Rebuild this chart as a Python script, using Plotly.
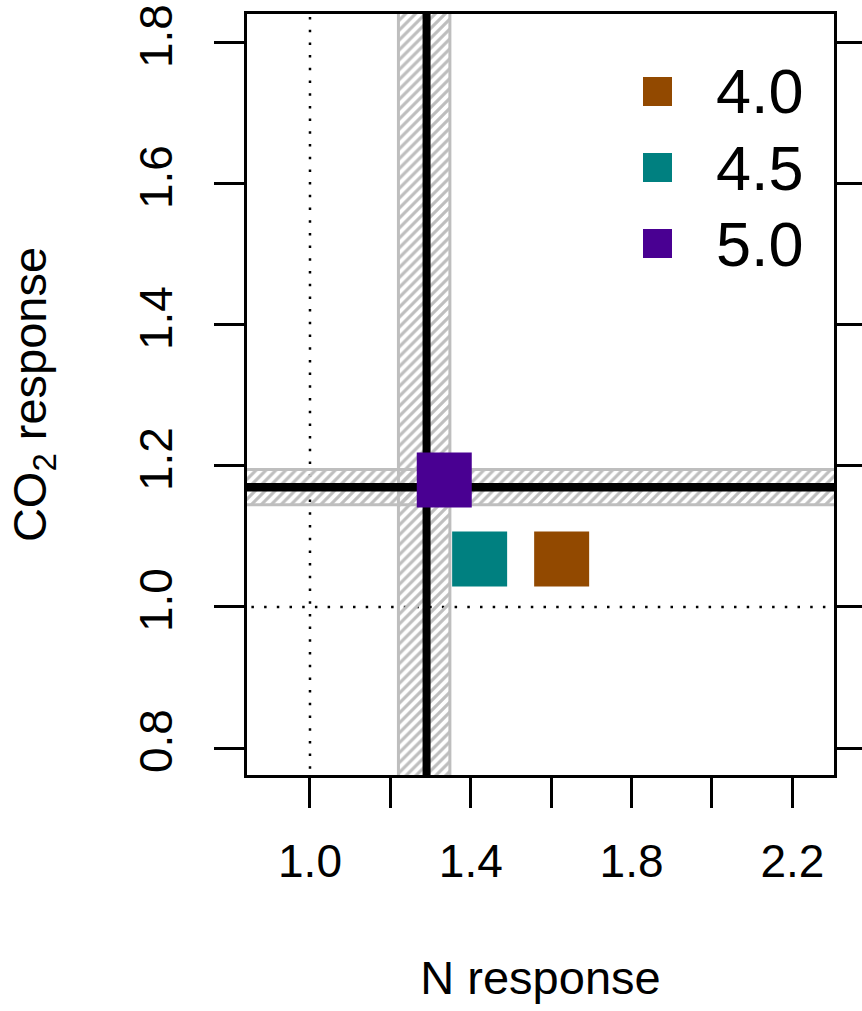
import plotly.graph_objects as go

# ---- data ----
ph_levels = ["4.0", "4.5", "5.0"]
n_response = [1.626, 1.422, 1.334]
co2_response = [1.068, 1.068, 1.180]
ph_colors = ["#924900", "#008080", "#490092"]

overall_n = 1.290
overall_n_lo, overall_n_hi = 1.220, 1.348
overall_co2 = 1.170
overall_co2_lo, overall_co2_hi = 1.145, 1.195

x_ticks = [1.0, 1.4, 1.8, 2.2]
x_ticklabels = ["1.0", "1.4", "1.8", "2.2"]
x_minor_step = 0.2
y_ticks = [0.8, 1.0, 1.2, 1.4, 1.6, 1.8]
y_ticklabels = ["0.8", "1.0", "1.2", "1.4", "1.6", "1.8"]

x_range = [0.8433, 2.3035]
y_range = [0.7617, 1.8411]

FONT = "Liberation Sans, Arial, Helvetica, sans-serif"
BAND_GRAY = "#BEBEBE"

fig = go.Figure()

# reference dotted lines at 1.0
fig.add_trace(go.Scatter(x=[1.0, 1.0], y=[y_range[0] - 1, y_range[1] + 1], mode="lines",
                         line=dict(color="black", width=2.5, dash="2.5px,10.2px"),
                         hoverinfo="skip", showlegend=False))
fig.add_trace(go.Scatter(x=[x_range[0] - 1, x_range[1] + 1], y=[1.0, 1.0], mode="lines",
                         line=dict(color="black", width=2.5, dash="2.5px,10.2px"),
                         hoverinfo="skip", showlegend=False))

# hatched uncertainty bands
big_lo_x, big_hi_x = x_range[0] - 1, x_range[1] + 1
big_lo_y, big_hi_y = y_range[0] - 1, y_range[1] + 1
hatch = dict(shape="/", fgcolor=BAND_GRAY, bgcolor="rgba(0,0,0,0)", size=7, solidity=0.45, fillmode="replace")
fig.add_trace(go.Scatter(
    x=[big_lo_x, big_hi_x, big_hi_x, big_lo_x, big_lo_x],
    y=[overall_co2_lo, overall_co2_lo, overall_co2_hi, overall_co2_hi, overall_co2_lo],
    mode="lines", fill="toself", fillcolor="rgba(0,0,0,0)", fillpattern=hatch,
    line=dict(color=BAND_GRAY, width=3), hoverinfo="skip", showlegend=False))
fig.add_trace(go.Scatter(
    x=[overall_n_lo, overall_n_hi, overall_n_hi, overall_n_lo, overall_n_lo],
    y=[big_lo_y, big_lo_y, big_hi_y, big_hi_y, big_lo_y],
    mode="lines", fill="toself", fillcolor="rgba(0,0,0,0)", fillpattern=hatch,
    line=dict(color=BAND_GRAY, width=3), hoverinfo="skip", showlegend=False))

# overall response lines
fig.add_trace(go.Scatter(x=[overall_n, overall_n], y=[big_lo_y, big_hi_y], mode="lines",
                         line=dict(color="black", width=8), hoverinfo="skip", showlegend=False))
fig.add_trace(go.Scatter(x=[big_lo_x, big_hi_x], y=[overall_co2, overall_co2], mode="lines",
                         line=dict(color="black", width=8.5), hoverinfo="skip", showlegend=False))

# pH squares
for lab, xv, yv, col in zip(ph_levels, n_response, co2_response, ph_colors):
    fig.add_trace(go.Scatter(x=[xv], y=[yv], mode="markers", name=lab,
                             marker=dict(symbol="square", size=55, color=col, line=dict(width=0)),
                             showlegend=False))

# manual legend (large swatches)
W, H = 862, 1011
ML, MR, MT, MB = 247, 28, 14, 236
pw, ph = W - ML - MR, H - MT - MB
leg_x_sw = (657.5 - ML) / pw
leg_x_txt = (714 - ML) / pw
leg_y0 = 91.5
leg_dy = 76
shapes = []
annotations = []
for i, (lab, col) in enumerate(zip(ph_levels, ph_colors)):
    py = leg_y0 + i * leg_dy
    yp = 1 - (py - MT) / ph
    shapes.append(dict(type="rect", xref="paper", yref="paper", xsizemode="pixel", ysizemode="pixel",
                       xanchor=leg_x_sw, yanchor=yp, x0=-14.5, x1=14.5, y0=-14.5, y1=14.5,
                       fillcolor=col, line=dict(width=0), layer="above"))
    annotations.append(dict(xref="paper", yref="paper", x=leg_x_txt, y=yp, text=lab,
                            showarrow=False, xanchor="left", yanchor="middle",
                            font=dict(family=FONT, size=63, color="black")))

fig.update_layout(
    width=W, height=H,
    margin=dict(l=ML, r=MR, t=MT, b=MB, pad=0, autoexpand=False),
    paper_bgcolor="white", plot_bgcolor="white",
    font=dict(family=FONT, color="black"),
    shapes=shapes, annotations=annotations,
    showlegend=False,
)
fig.update_xaxes(
    range=x_range, tickmode="array", tickvals=x_ticks, ticktext=x_ticklabels,
    ticks="outside", ticklen=30, tickwidth=2.5, tickcolor="black",
    minor=dict(tickmode="linear", tick0=x_ticks[0], dtick=x_minor_step, ticks="outside",
               ticklen=30, tickwidth=2.5, tickcolor="black", showgrid=False),
    showline=True, linewidth=2.5, linecolor="black", mirror=True,
    showgrid=False, zeroline=False, automargin=False,
    tickfont=dict(family=FONT, size=46), ticklabelstandoff=14,
    title=dict(text="N response", font=dict(family=FONT, size=47), standoff=76),
)
fig.update_yaxes(
    range=y_range, tickmode="array", tickvals=y_ticks, ticktext=y_ticklabels,
    ticks="outside", ticklen=30, tickwidth=2.5, tickcolor="black",
    showline=True, linewidth=2.5, linecolor="black", mirror="ticks",
    showgrid=False, zeroline=False, tickangle=-90, automargin=False,
    tickfont=dict(family=FONT, size=46), ticklabelstandoff=24,
    title=dict(text="CO<sub>2</sub> response", font=dict(family=FONT, size=47), standoff=69),
)

fig.write_html("out.html", config={"displayModeBar": False},
               post_script="document.body.style.margin='0';document.body.style.overflow='hidden';")
